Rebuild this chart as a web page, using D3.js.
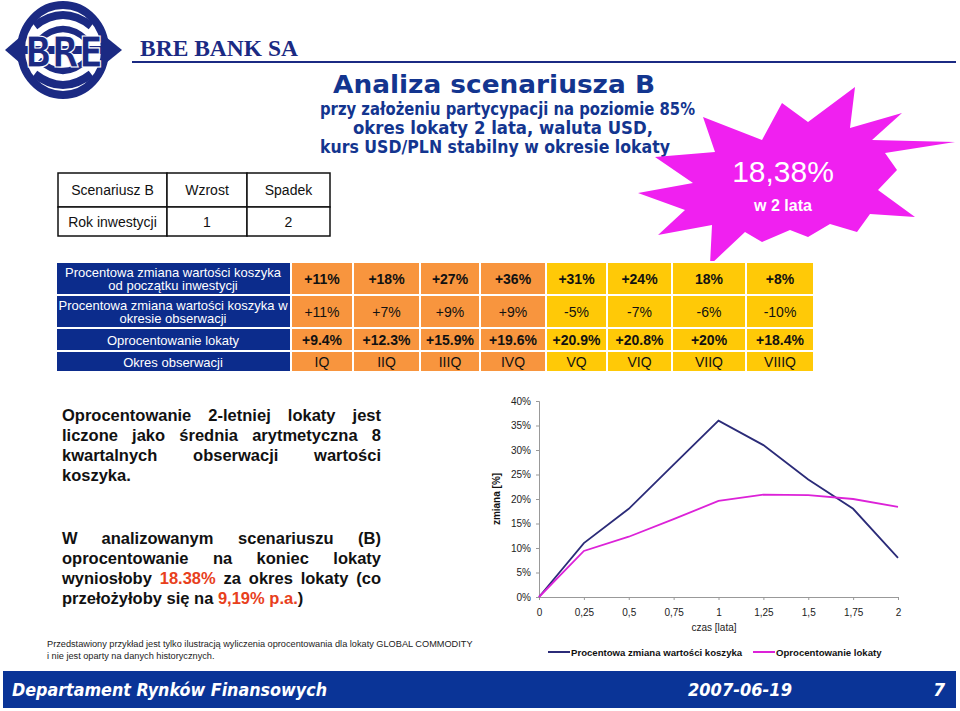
<!DOCTYPE html>
<html>
<head>
<meta charset="utf-8">
<script src="https://cdn.jsdelivr.net/npm/d3@7"></script>
<style>
  body { margin: 0; background: #fff; }
  svg { display: block; }
</style>
</head>
<body>
<div id="chart"></div>
<script>
// --- data ---
const quarters = ["IQ", "IIQ", "IIIQ", "IVQ", "VQ", "VIQ", "VIIQ", "VIIIQ"];
const cumulativeChange = ["+11%", "+18%", "+27%", "+36%", "+31%", "+24%", "18%", "+8%"];
const periodChange = ["+11%", "+7%", "+9%", "+9%", "-5%", "-7%", "-6%", "-10%"];
const depositRateRow = ["+9.4%", "+12.3%", "+15.9%", "+19.6%", "+20.9%", "+20.8%", "+20%", "+18.4%"];
const rowLabels = [
  ["Procentowa zmiana wartości koszyka", "od początku inwestycji"],
  ["Procentowa zmiana wartości koszyka w", "okresie obserwacji"],
  ["Oprocentowanie lokaty"],
  ["Okres obserwacji"]
];
const scenarioTable = [["Scenariusz B", "Wzrost", "Spadek"], ["Rok inwestycji", "1", "2"]];

const years = [0, 0.25, 0.5, 0.75, 1, 1.25, 1.5, 1.75, 2];
const basketChange = [0, 11, 18, 27, 36, 31, 24, 18, 8];
const depositInterest = [0, 9.4, 12.3, 15.9, 19.6, 20.9, 20.8, 20, 18.4];
const yTicks = [0, 5, 10, 15, 20, 25, 30, 35, 40];
const seriesNames = ["Procentowa zmiana wartości koszyka", "Oprocentowanie lokaty"];

const W = 960, H = 711;
const navy = "#1b2a83", titleBlue = "#13358f", red = "#e8401c";
const sans = "'Liberation Sans', Arial, sans-serif";
const verdana = "'DejaVu Sans', Verdana, sans-serif";

const svg = d3.select("#chart").append("svg").attr("width", W).attr("height", H);

// --- logo ---
const logo = svg.append("g");
logo.append("ellipse").attr("cx", 63).attr("cy", 50).attr("rx", 42).attr("ry", 45)
  .attr("fill", "#fff").attr("stroke", navy).attr("stroke-width", 8);
[[26, 8], [40, 6]].forEach(([d, w]) => {
  logo.append("path").attr("d", `M${63 - 36 + d * 0.3},${d} Q63,${d - 22} ${63 + 36 - d * 0.3},${d}`)
    .attr("fill", "none").attr("stroke", navy).attr("stroke-width", w);
  logo.append("path").attr("d", `M${63 - 36 + d * 0.3},${100 - d} Q63,${122 - d} ${63 + 36 - d * 0.3},${100 - d}`)
    .attr("fill", "none").attr("stroke", navy).attr("stroke-width", w);
});
logo.append("rect").attr("x", 18).attr("y", 46).attr("width", 90).attr("height", 8).attr("fill", navy);
logo.append("path").attr("d", "M5,50 L20,37 L20,63 Z").attr("fill", navy);
logo.append("path").attr("d", "M122,50 L106,37 L106,63 Z").attr("fill", navy);
logo.append("text").attr("x", 64).attr("y", 67).attr("text-anchor", "middle")
  .attr("font-family", verdana).attr("font-weight", "bold").attr("font-size", 42)
  .attr("textLength", 78).attr("lengthAdjust", "spacingAndGlyphs")
  .attr("fill", navy).attr("stroke", "#fff").attr("stroke-width", 1.2).text("BRE");

svg.append("text").attr("x", 140).attr("y", 56)
  .attr("font-family", "'Liberation Serif', 'Times New Roman', serif").attr("font-weight", "bold")
  .attr("font-size", 23).attr("fill", navy)
  .attr("textLength", 158).attr("lengthAdjust", "spacingAndGlyphs").text("BRE BANK SA");
svg.append("line").attr("x1", 132).attr("x2", 956).attr("y1", 62).attr("y2", 62)
  .attr("stroke", navy).attr("stroke-width", 2);

// --- title ---
const titles = [
  { t: "Analiza scenariusza B", x: 333, y: 93, s: 25, w: 322 },
  { t: "przy założeniu partycypacji na poziomie 85%", x: 320, y: 115, s: 17, w: 375 },
  { t: "okres lokaty 2 lata, waluta USD,", x: 353, y: 134, s: 17, w: 300 },
  { t: "kurs USD/PLN stabilny w okresie lokaty", x: 320, y: 153, s: 17, w: 350 }
];
titles.forEach(d => {
  svg.append("text").attr("x", d.x).attr("y", d.y)
    .attr("font-family", verdana).attr("font-weight", "bold").attr("font-size", d.s)
    .attr("fill", titleBlue).attr("textLength", d.w).attr("lengthAdjust", "spacingAndGlyphs").text(d.t);
});

// --- starburst ---
const burst = [
  [855, 87], [808, 122], [782, 103], [762, 140], [703, 117], [715, 152], [655, 157], [693, 183],
  [638, 193], [685, 210], [658, 235], [712, 225], [710, 265], [745, 232], [762, 242], [790, 230],
  [808, 237], [830, 224], [857, 232], [870, 214], [915, 217], [878, 190], [897, 170], [885, 153],
  [955, 142], [872, 140], [902, 113], [850, 128]
];
svg.append("path").attr("d", d3.line().curve(d3.curveLinearClosed)(burst)).attr("fill", "#f020f0");
svg.append("text").attr("x", 783).attr("y", 182).attr("text-anchor", "middle")
  .attr("font-family", sans).attr("font-size", 30).attr("fill", "#fff").text("18,38%");
svg.append("text").attr("x", 783).attr("y", 211).attr("text-anchor", "middle")
  .attr("font-family", sans).attr("font-weight", "bold").attr("font-size", 16).attr("fill", "#fff").text("w 2 lata");

// --- scenario table ---
const stCols = [58, 167, 247, 330], stRows = [173, 207, 236];
const st = svg.append("g");
scenarioTable.forEach((row, r) => row.forEach((cell, c) => {
  st.append("rect").attr("x", stCols[c]).attr("y", stRows[r])
    .attr("width", stCols[c + 1] - stCols[c]).attr("height", stRows[r + 1] - stRows[r])
    .attr("fill", "#fff").attr("stroke", "#111").attr("stroke-width", 1.5);
  st.append("text").attr("x", (stCols[c] + stCols[c + 1]) / 2).attr("y", (stRows[r] + stRows[r + 1]) / 2 + 5)
    .attr("text-anchor", "middle").attr("font-family", sans).attr("font-size", 14).attr("fill", "#111").text(cell);
}));

// --- data table ---
const colEdges = [291, 353, 420, 480, 546, 607, 672, 746, 814];
const rowEdges = [262, 295, 328, 351, 372];
const tableRows = [cumulativeChange, periodChange, depositRateRow, quarters];
const rowBold = [true, false, true, false];
const dt = svg.append("g");
tableRows.forEach((vals, r) => {
  const y0 = rowEdges[r], y1 = rowEdges[r + 1];
  dt.append("rect").attr("x", 56).attr("y", y0).attr("width", 291 - 56).attr("height", y1 - y0)
    .attr("fill", "#0c2c8c").attr("stroke", "#fff").attr("stroke-width", 2);
  const lines = rowLabels[r];
  lines.forEach((l, i) => {
    dt.append("text").attr("x", 173)
      .attr("y", (y0 + y1) / 2 + 5 + (i - (lines.length - 1) / 2) * 13.5)
      .attr("text-anchor", "middle").attr("font-family", sans).attr("font-size", 13).attr("fill", "#fff").text(l);
  });
  vals.forEach((v, c) => {
    dt.append("rect").attr("x", colEdges[c]).attr("y", y0)
      .attr("width", colEdges[c + 1] - colEdges[c]).attr("height", y1 - y0)
      .attr("fill", c < 4 ? "#f8953e" : "#ffc907").attr("stroke", "#fff").attr("stroke-width", 2);
    dt.append("text").attr("x", (colEdges[c] + colEdges[c + 1]) / 2).attr("y", (y0 + y1) / 2 + 5)
      .attr("text-anchor", "middle").attr("font-family", sans).attr("font-size", 14)
      .attr("font-weight", rowBold[r] ? "bold" : "normal").attr("fill", "#111").text(v);
  });
});

// --- justified paragraph text ---
const para = [
  { words: ["Oprocentowanie", "2-letniej", "lokaty", "jest"], y: 421, j: true },
  { words: ["liczone", "jako", "średnia", "arytmetyczna", "8"], y: 441, j: true },
  { words: ["kwartalnych", "obserwacji", "wartości"], y: 461, j: true },
  { words: ["koszyka."], y: 481, j: false },
  { words: ["W", "analizowanym", "scenariuszu", "(B)"], y: 544, j: true },
  { words: ["oprocentowanie", "na", "koniec", "lokaty"], y: 564, j: true },
  { words: ["wyniosłoby", { t: "18.38%", c: red }, "za", "okres", "lokaty", "(co"], y: 584, j: true },
  { words: ["przełożyłoby", "się", "na", { t: "9,19%", c: red }, { t: "p.a.", c: red }, { t: ")", nogap: true }], y: 604, j: false }
];
const px0 = 62, pWidth = 319;
para.forEach(line => {
  const t = svg.append("text").attr("y", line.y).attr("font-family", sans)
    .attr("font-weight", "bold").attr("font-size", 16.5).attr("fill", "#111");
  const items = line.words.map(w => typeof w === "string" ? { t: w } : w);
  const spans = items.map(w => t.append("tspan").text(w.t).attr("fill", w.c || "#111"));
  const widths = spans.map(s => s.node().getComputedTextLength());
  const gaps = items.length - 1 - items.filter(w => w.nogap).length;
  const gap = line.j && gaps > 0 ? (pWidth - d3.sum(widths)) / gaps : 4.6;
  let x = px0;
  spans.forEach((s, i) => {
    if (i > 0) x += items[i].nogap ? 0 : gap;
    s.attr("x", x);
    x += widths[i];
  });
});

// --- footnote ---
["Przedstawiony przykład jest tylko ilustracją wyliczenia oprocentowania dla lokaty GLOBAL COMMODITY",
 "i nie jest oparty na danych historycznych."].forEach((l, i) => {
  svg.append("text").attr("x", 47).attr("y", 647 + i * 11.5).attr("font-family", sans)
    .attr("font-size", 9.2).attr("fill", "#222").text(l);
});

// --- line chart ---
const x = d3.scaleLinear().domain([0, 2]).range([539, 898]);
const y = d3.scaleLinear().domain([0, 40]).range([597, 401]);
const ch = svg.append("g");

const yAxis = ch.append("g").attr("transform", `translate(${x(0)},0)`)
  .call(d3.axisLeft(y).tickValues(yTicks).tickSize(3).tickPadding(5).tickFormat(d => d + "%"));
const xAxis = ch.append("g").attr("transform", `translate(0,${y(0)})`)
  .call(d3.axisBottom(x).tickValues(years).tickSize(3).tickPadding(9)
    .tickFormat(d => String(d).replace(".", ",")));
[yAxis, xAxis].forEach(a => {
  a.select(".domain").attr("stroke", "#999");
  a.selectAll(".tick line").attr("stroke", "#999");
  a.selectAll("text").attr("font-family", sans).attr("font-size", 10).attr("fill", "#222");
});

const line = d3.line().x((d, i) => x(years[i])).y(d => y(d));
const seriesColors = ["#2b2b78", "#dc22d8"];
[basketChange, depositInterest].forEach((s, k) => {
  ch.append("path").datum(s).attr("d", line).attr("fill", "none")
    .attr("stroke", seriesColors[k]).attr("stroke-width", 1.8);
});

ch.append("text").attr("x", 714).attr("y", 631).attr("text-anchor", "middle")
  .attr("font-family", sans).attr("font-size", 10).attr("fill", "#222").text("czas [lata]");
ch.append("text").attr("transform", "translate(500,499) rotate(-90)").attr("text-anchor", "middle")
  .attr("font-family", sans).attr("font-weight", "bold").attr("font-size", 10).attr("fill", "#111").text("zmiana [%]");

const legendX = [548, 753];
seriesNames.forEach((n, k) => {
  const g = ch.append("g").attr("transform", `translate(${legendX[k]},652)`);
  g.append("line").attr("x1", 0).attr("x2", 22).attr("stroke", seriesColors[k]).attr("stroke-width", 2);
  g.append("text").attr("x", 23).attr("y", 3.5).attr("font-family", sans).attr("font-weight", "bold")
    .attr("font-size", 9.6).attr("fill", "#111").text(n);
});

// --- footer ---
svg.append("rect").attr("x", 3).attr("y", 671).attr("width", 953).attr("height", 37).attr("fill", "#0a3497");
const foot = [
  { t: "Departament Rynków Finansowych", x: 12, a: "start", w: 315 },
  { t: "2007-06-19", x: 740, a: "middle", w: 104 },
  { t: "7", x: 945, a: "end", w: null }
];
foot.forEach(d => {
  const t = svg.append("text").attr("x", d.x).attr("y", 696).attr("text-anchor", d.a)
    .attr("font-family", verdana).attr("font-weight", "bold").attr("font-style", "italic")
    .attr("font-size", 17).attr("fill", "#fff").text(d.t);
  if (d.w) t.attr("textLength", d.w).attr("lengthAdjust", "spacingAndGlyphs");
});
</script>
</body>
</html>
